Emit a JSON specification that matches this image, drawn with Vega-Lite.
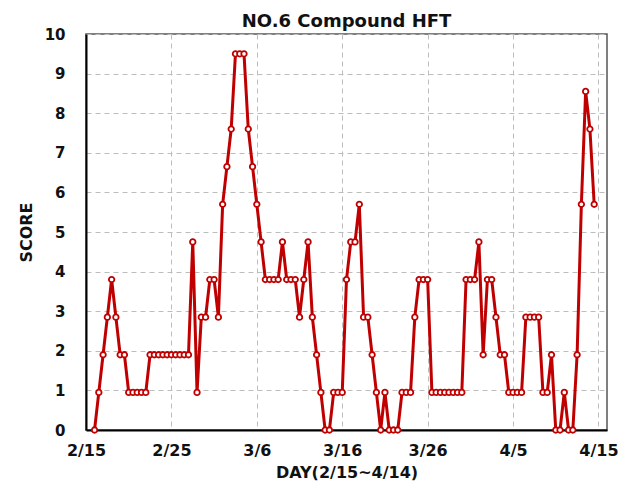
{
  "$schema": "https://vega.github.io/schema/vega-lite/v6.json",
  "width": 521,
  "height": 396,
  "autosize": {"type": "none"},
  "padding": {"left": 86, "top": 34, "right": 15, "bottom": 54},
  "background": "white",
  "title": {"text": "NO.6 Compound HFT", "font": "DejaVu Sans", "fontSize": 18, "fontWeight": "bold", "color": "#111111", "offset": 0, "dy": 4, "anchor": "middle"},
  "config": {
    "view": {"stroke": "#555555", "strokeWidth": 1.5},
    "axis": {
      "grid": true, "gridDash": [5, 4], "gridColor": "#bdbdbd", "gridWidth": 1,
      "ticks": false, "domainColor": "#000000", "domainWidth": 2,
      "labelFont": "DejaVu Sans", "labelFontSize": 15, "labelFontWeight": "bold", "labelColor": "#111111",
      "titleFont": "DejaVu Sans", "titleFontSize": 16, "titleFontWeight": "bold", "titleColor": "#111111",
      "labelOverlap": false, "labelFlush": false
    }
  },
  "data": {"values": [
    {"t": "2024-02-16T00:00", "score": 0},
    {"t": "2024-02-16T12:00", "score": 0.95},
    {"t": "2024-02-17T00:00", "score": 1.9},
    {"t": "2024-02-17T12:00", "score": 2.85},
    {"t": "2024-02-18T00:00", "score": 3.8},
    {"t": "2024-02-18T12:00", "score": 2.85},
    {"t": "2024-02-19T00:00", "score": 1.9},
    {"t": "2024-02-19T12:00", "score": 1.9},
    {"t": "2024-02-20T00:00", "score": 0.95},
    {"t": "2024-02-20T12:00", "score": 0.95},
    {"t": "2024-02-21T00:00", "score": 0.95},
    {"t": "2024-02-21T12:00", "score": 0.95},
    {"t": "2024-02-22T00:00", "score": 0.95},
    {"t": "2024-02-22T12:00", "score": 1.9},
    {"t": "2024-02-23T00:00", "score": 1.9},
    {"t": "2024-02-23T12:00", "score": 1.9},
    {"t": "2024-02-24T00:00", "score": 1.9},
    {"t": "2024-02-24T12:00", "score": 1.9},
    {"t": "2024-02-25T00:00", "score": 1.9},
    {"t": "2024-02-25T12:00", "score": 1.9},
    {"t": "2024-02-26T00:00", "score": 1.9},
    {"t": "2024-02-26T12:00", "score": 1.9},
    {"t": "2024-02-27T00:00", "score": 1.9},
    {"t": "2024-02-27T12:00", "score": 4.75},
    {"t": "2024-02-28T00:00", "score": 0.95},
    {"t": "2024-02-28T12:00", "score": 2.85},
    {"t": "2024-02-29T00:00", "score": 2.85},
    {"t": "2024-02-29T12:00", "score": 3.8},
    {"t": "2024-03-01T00:00", "score": 3.8},
    {"t": "2024-03-01T12:00", "score": 2.85},
    {"t": "2024-03-02T00:00", "score": 5.7},
    {"t": "2024-03-02T12:00", "score": 6.65},
    {"t": "2024-03-03T00:00", "score": 7.6},
    {"t": "2024-03-03T12:00", "score": 9.5},
    {"t": "2024-03-04T00:00", "score": 9.5},
    {"t": "2024-03-04T12:00", "score": 9.5},
    {"t": "2024-03-05T00:00", "score": 7.6},
    {"t": "2024-03-05T12:00", "score": 6.65},
    {"t": "2024-03-06T00:00", "score": 5.7},
    {"t": "2024-03-06T12:00", "score": 4.75},
    {"t": "2024-03-07T00:00", "score": 3.8},
    {"t": "2024-03-07T12:00", "score": 3.8},
    {"t": "2024-03-08T00:00", "score": 3.8},
    {"t": "2024-03-08T12:00", "score": 3.8},
    {"t": "2024-03-09T00:00", "score": 4.75},
    {"t": "2024-03-09T12:00", "score": 3.8},
    {"t": "2024-03-10T00:00", "score": 3.8},
    {"t": "2024-03-10T12:00", "score": 3.8},
    {"t": "2024-03-11T00:00", "score": 2.85},
    {"t": "2024-03-11T12:00", "score": 3.8},
    {"t": "2024-03-12T00:00", "score": 4.75},
    {"t": "2024-03-12T12:00", "score": 2.85},
    {"t": "2024-03-13T00:00", "score": 1.9},
    {"t": "2024-03-13T12:00", "score": 0.95},
    {"t": "2024-03-14T00:00", "score": 0},
    {"t": "2024-03-14T12:00", "score": 0},
    {"t": "2024-03-15T00:00", "score": 0.95},
    {"t": "2024-03-15T12:00", "score": 0.95},
    {"t": "2024-03-16T00:00", "score": 0.95},
    {"t": "2024-03-16T12:00", "score": 3.8},
    {"t": "2024-03-17T00:00", "score": 4.75},
    {"t": "2024-03-17T12:00", "score": 4.75},
    {"t": "2024-03-18T00:00", "score": 5.7},
    {"t": "2024-03-18T12:00", "score": 2.85},
    {"t": "2024-03-19T00:00", "score": 2.85},
    {"t": "2024-03-19T12:00", "score": 1.9},
    {"t": "2024-03-20T00:00", "score": 0.95},
    {"t": "2024-03-20T12:00", "score": 0},
    {"t": "2024-03-21T00:00", "score": 0.95},
    {"t": "2024-03-21T12:00", "score": 0},
    {"t": "2024-03-22T00:00", "score": 0},
    {"t": "2024-03-22T12:00", "score": 0},
    {"t": "2024-03-23T00:00", "score": 0.95},
    {"t": "2024-03-23T12:00", "score": 0.95},
    {"t": "2024-03-24T00:00", "score": 0.95},
    {"t": "2024-03-24T12:00", "score": 2.85},
    {"t": "2024-03-25T00:00", "score": 3.8},
    {"t": "2024-03-25T12:00", "score": 3.8},
    {"t": "2024-03-26T00:00", "score": 3.8},
    {"t": "2024-03-26T12:00", "score": 0.95},
    {"t": "2024-03-27T00:00", "score": 0.95},
    {"t": "2024-03-27T12:00", "score": 0.95},
    {"t": "2024-03-28T00:00", "score": 0.95},
    {"t": "2024-03-28T12:00", "score": 0.95},
    {"t": "2024-03-29T00:00", "score": 0.95},
    {"t": "2024-03-29T12:00", "score": 0.95},
    {"t": "2024-03-30T00:00", "score": 0.95},
    {"t": "2024-03-30T12:00", "score": 3.8},
    {"t": "2024-03-31T00:00", "score": 3.8},
    {"t": "2024-03-31T12:00", "score": 3.8},
    {"t": "2024-04-01T00:00", "score": 4.75},
    {"t": "2024-04-01T12:00", "score": 1.9},
    {"t": "2024-04-02T00:00", "score": 3.8},
    {"t": "2024-04-02T12:00", "score": 3.8},
    {"t": "2024-04-03T00:00", "score": 2.85},
    {"t": "2024-04-03T12:00", "score": 1.9},
    {"t": "2024-04-04T00:00", "score": 1.9},
    {"t": "2024-04-04T12:00", "score": 0.95},
    {"t": "2024-04-05T00:00", "score": 0.95},
    {"t": "2024-04-05T12:00", "score": 0.95},
    {"t": "2024-04-06T00:00", "score": 0.95},
    {"t": "2024-04-06T12:00", "score": 2.85},
    {"t": "2024-04-07T00:00", "score": 2.85},
    {"t": "2024-04-07T12:00", "score": 2.85},
    {"t": "2024-04-08T00:00", "score": 2.85},
    {"t": "2024-04-08T12:00", "score": 0.95},
    {"t": "2024-04-09T00:00", "score": 0.95},
    {"t": "2024-04-09T12:00", "score": 1.9},
    {"t": "2024-04-10T00:00", "score": 0},
    {"t": "2024-04-10T12:00", "score": 0},
    {"t": "2024-04-11T00:00", "score": 0.95},
    {"t": "2024-04-11T12:00", "score": 0},
    {"t": "2024-04-12T00:00", "score": 0},
    {"t": "2024-04-12T12:00", "score": 1.9},
    {"t": "2024-04-13T00:00", "score": 5.7},
    {"t": "2024-04-13T12:00", "score": 8.55},
    {"t": "2024-04-14T00:00", "score": 7.6},
    {"t": "2024-04-14T12:00", "score": 5.7}
  ]},
  "encoding": {
    "x": {
      "field": "t", "type": "temporal",
      "scale": {"domain": [{"year": 2024, "month": 2, "date": 15}, {"year": 2024, "month": 4, "date": 16}]},
      "axis": {
        "title": "DAY(2/15~4/14)", "format": "%-m/%-d",
        "values": [
          {"year": 2024, "month": 2, "date": 15},
          {"year": 2024, "month": 2, "date": 25},
          {"year": 2024, "month": 3, "date": 6},
          {"year": 2024, "month": 3, "date": 16},
          {"year": 2024, "month": 3, "date": 26},
          {"year": 2024, "month": 4, "date": 5},
          {"year": 2024, "month": 4, "date": 15}
        ],
        "labelPadding": 12, "titlePadding": 6, "labelFontSize": 16
      }
    },
    "y": {
      "field": "score", "type": "quantitative",
      "scale": {"domain": [0, 10], "nice": false},
      "axis": {"title": "SCORE", "values": [0, 1, 2, 3, 4, 5, 6, 7, 8, 9, 10], "labelPadding": 21, "titlePadding": 10}
    }
  },
  "layer": [
    {"mark": {"type": "line", "color": "#C00000", "strokeWidth": 3}},
    {"mark": {"type": "point", "shape": "circle", "filled": true, "fill": "white", "stroke": "#C00000", "strokeWidth": 1.8, "size": 30, "opacity": 1}}
  ]
}
